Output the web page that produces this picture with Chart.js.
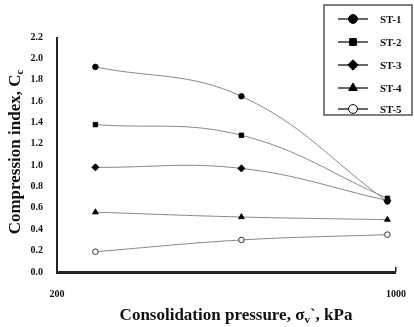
<!DOCTYPE html>
<html>
<head>
<meta charset="utf-8">
<script src="https://cdn.jsdelivr.net/npm/chart.js@4/dist/chart.umd.min.js"></script>
<style>
  html, body { margin: 0; padding: 0; background: #fff; }
  #wrap { width: 414px; height: 327px; position: relative; }
</style>
</head>
<body>
<div id="wrap"><canvas id="chart"></canvas></div>
<script>
// consolidation pressure (kPa)
const pressures = [240, 480, 960];
const seriesNames = ['ST-1', 'ST-2', 'ST-3', 'ST-4', 'ST-5'];
const st1 = [1.92, 1.645, 0.66];
const st2 = [1.38, 1.28, 0.69];
const st3 = [0.98, 0.97, 0.67];
const st4 = [0.56, 0.515, 0.49];
const st5 = [0.19, 0.30, 0.35];
const xTickLabels = [200, 1000];

const serif = '"Liberation Serif", "Times New Roman", serif';
const markers = [
  { style: 'circle', fill: '#000', r: 2.8 },
  { style: 'rect', fill: '#000', r: 3.2 },
  { style: 'rectRot', fill: '#000', r: 3.6 },
  { style: 'triangle', fill: '#000', r: 3.4 },
  { style: 'circle', fill: '#fff', r: 2.8 }
];

const values = [st1, st2, st3, st4, st5];
const datasets = values.map((vals, i) => ({
  label: seriesNames[i],
  data: vals.map((v, j) => ({ x: pressures[j], y: v })),
  borderColor: '#888',
  borderWidth: 1,
  tension: 0.4,
  pointStyle: markers[i].style,
  pointRadius: markers[i].r,
  pointBackgroundColor: markers[i].fill,
  pointBorderColor: '#000',
  pointBorderWidth: 0.8
}));

// axis lines, axis titles and the boxed legend
const extras = {
  id: 'extras',
  afterDraw(chart) {
    const ctx = chart.ctx;
    const a = chart.chartArea;
    ctx.save();
    ctx.fillStyle = '#222';
    ctx.fillRect(a.left - 1, a.top, 2, a.bottom - a.top + 1);
    ctx.fillRect(a.left - 1, a.bottom - 1, a.right - a.left + 1, 3);
    ctx.fillRect(a.right - 1, a.bottom - 5, 1.5, 5);

    ctx.fillStyle = '#111';
    ctx.textBaseline = 'alphabetic';
    ctx.textAlign = 'left';
    const big = 'bold 17px ' + serif;
    const small = 'bold 11px ' + serif;

    // x title with subscript
    const p1 = 'Consolidation pressure, \u03c3';
    const p2 = 'v';
    const p3 = '`, kPa';
    ctx.font = big;
    const w1 = ctx.measureText(p1).width;
    const w3 = ctx.measureText(p3).width;
    ctx.font = small;
    const w2 = ctx.measureText(p2).width;
    const x = 236 - (w1 + w2 + w3) / 2;
    const yb = 320;
    ctx.font = big;
    ctx.fillText(p1, x, yb);
    ctx.font = small;
    ctx.fillText(p2, x + w1, yb + 3);
    ctx.font = big;
    ctx.fillText(p3, x + w1 + w2, yb);

    // y title, rotated
    ctx.translate(20, 152);
    ctx.rotate(-Math.PI / 2);
    const q1 = 'Compression index, C';
    const q2 = 'c';
    ctx.font = big;
    const v1 = ctx.measureText(q1).width;
    ctx.font = small;
    const v2 = ctx.measureText(q2).width;
    const sx = -(v1 + v2) / 2;
    ctx.font = big;
    ctx.fillText(q1, sx, 0);
    ctx.font = small;
    ctx.fillText(q2, sx + v1, 3);
    ctx.restore();

    // legend box
    ctx.save();
    const bx = 324, by = 5, bw = 88, bh = 110;
    ctx.fillStyle = '#fff';
    ctx.fillRect(bx, by, bw, bh);
    ctx.strokeStyle = '#555';
    ctx.lineWidth = 1.5;
    ctx.strokeRect(bx, by, bw, bh);
    const rowY = [19, 42, 65, 88, 109];
    seriesNames.forEach((name, i) => {
      const cy = rowY[i];
      ctx.strokeStyle = '#000';
      ctx.lineWidth = 1.2;
      ctx.beginPath();
      ctx.moveTo(338, cy);
      ctx.lineTo(368, cy);
      ctx.stroke();
      ctx.fillStyle = markers[i].fill;
      ctx.lineWidth = 1;
      Chart.helpers.drawPoint(ctx, {
        pointStyle: markers[i].style,
        radius: markers[i].r + 1.6,
        rotation: 0,
        borderWidth: 1
      }, 353, cy);
      ctx.fillStyle = '#111';
      ctx.font = 'bold 11px ' + serif;
      ctx.textAlign = 'left';
      ctx.textBaseline = 'middle';
      ctx.fillText(name, 380, cy + 1);
    });
    ctx.restore();
  }
};

new Chart(document.getElementById('chart'), {
  type: 'line',
  data: { datasets },
  options: {
    responsive: true,
    maintainAspectRatio: false,
    animation: false,
    layout: { padding: { left: 0, right: 17, top: 37, bottom: 0 } },
    plugins: {
      legend: { display: false },
      tooltip: { enabled: false }
    },
    scales: {
      x: {
        type: 'logarithmic',
        min: 200,
        max: 1000,
        grid: { display: false },
        border: { display: false },
        afterFit: (s) => { s.height = 55; },
        ticks: {
          autoSkip: false,
          maxRotation: 0,
          padding: 8,
          color: '#111',
          font: { family: serif, weight: 'bold', size: 10 },
          callback: (v) => xTickLabels.includes(v) ? String(v) : ''
        }
      },
      y: {
        min: 0,
        max: 2.2,
        grid: { display: false },
        border: { display: false },
        afterFit: (s) => { s.width = 57; },
        ticks: {
          stepSize: 0.2,
          padding: 6,
          color: '#111',
          font: { family: serif, weight: 'bold', size: 10 },
          callback: (v) => Number(v).toFixed(1)
        }
      }
    }
  },
  plugins: [extras]
});
</script>
</body>
</html>
